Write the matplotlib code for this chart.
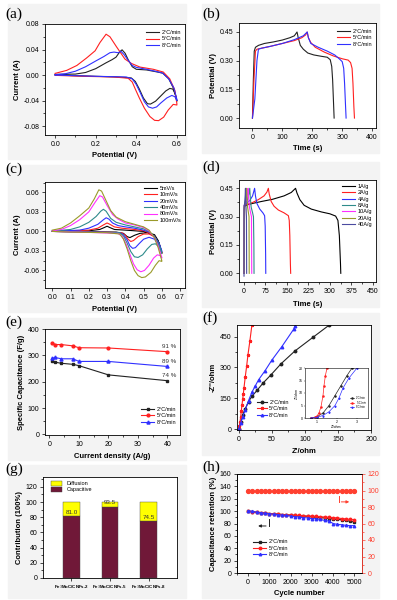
import matplotlib
matplotlib.use('Agg')
import matplotlib.pyplot as plt
from matplotlib.patches import Rectangle, Patch
from matplotlib.ticker import MultipleLocator, AutoMinorLocator

plt.rcParams['font.family'] = ['Liberation Sans', 'DejaVu Sans']
plt.rcParams['axes.linewidth'] = 0.6

# ---------------- data ----------------
# (a) CV of samples (upper branch 0->0.6 then lower branch 0.6->0)
a_labels = ['2°C/min', '5°C/min', '8°C/min']
a_black_v = [0, 0.1, 0.15, 0.2, 0.25, 0.28, 0.3, 0.32, 0.33, 0.345, 0.36, 0.38, 0.4, 0.45, 0.5, 0.53, 0.56, 0.585, 0.6,
             0.6, 0.592, 0.58, 0.565, 0.545, 0.52, 0.495, 0.47, 0.455, 0.435, 0.415, 0.395, 0.375, 0.3, 0.15, 0]
a_black_i = [0.001, 0.0015, 0.004, 0.01, 0.019, 0.024, 0.028, 0.037, 0.0395, 0.034, 0.024, 0.013, 0.009, 0.008, 0.005, 0.003, -0.006, -0.022, -0.04,
             -0.041, -0.03, -0.022, -0.021, -0.025, -0.033, -0.041, -0.0455, -0.045, -0.036, -0.022, -0.01, -0.0045, -0.003, -0.0015, 0]
a_red_v = [0, 0.057, 0.107, 0.156, 0.197, 0.221, 0.251, 0.27, 0.303, 0.344, 0.377, 0.418, 0.484, 0.533, 0.565, 0.59, 0.6,
           0.6, 0.582, 0.557, 0.535, 0.51, 0.49, 0.467, 0.44, 0.415, 0.395, 0.38, 0.36, 0.287, 0.139, 0]
a_red_i = [0.0026, 0.0073, 0.015, 0.027, 0.038, 0.051, 0.064, 0.06, 0.044, 0.025, 0.018, 0.0125, 0.009, 0.0047, -0.006, -0.024, -0.045,
           -0.047, -0.046, -0.055, -0.066, -0.0715, -0.071, -0.065, -0.052, -0.036, -0.022, -0.011, -0.005, -0.003, -0.002, -0.0005]
a_blue_v = [0, 0.05, 0.1, 0.15, 0.2, 0.24, 0.27, 0.29, 0.31, 0.325, 0.34, 0.36, 0.38, 0.4, 0.45, 0.5, 0.53, 0.56, 0.585, 0.6,
            0.6, 0.59, 0.575, 0.55, 0.52, 0.5, 0.48, 0.46, 0.44, 0.42, 0.4, 0.38, 0.35, 0.2, 0]
a_blue_i = [0.0005, 0.002, 0.006, 0.013, 0.022, 0.029, 0.035, 0.036, 0.035, 0.037, 0.032, 0.023, 0.015, 0.012, 0.009, 0.0055, 0.003, -0.006, -0.02, -0.038,
            -0.04, -0.034, -0.032, -0.036, -0.044, -0.05, -0.052, -0.05, -0.042, -0.028, -0.015, -0.006, -0.003, -0.002, 0]

# (b) GCD of samples
b_black_t = [0, 3, 6, 10, 20, 40, 70, 100, 125, 140, 149, 153, 160, 170, 185, 205, 230, 250, 260, 265, 268, 271, 273]
b_black_v = [0, 0.2, 0.35, 0.37, 0.38, 0.39, 0.398, 0.408, 0.42, 0.43, 0.45, 0.42, 0.38, 0.36, 0.34, 0.33, 0.323, 0.318, 0.305, 0.27, 0.2, 0.08, 0]
b_red_t = [0, 5, 10, 15, 30, 60, 100, 140, 165, 178, 183, 187, 195, 210, 240, 270, 300, 320, 328, 333, 336, 339, 341]
b_red_v = [0, 0.2, 0.35, 0.36, 0.365, 0.375, 0.39, 0.405, 0.42, 0.435, 0.45, 0.42, 0.395, 0.37, 0.345, 0.325, 0.31, 0.303, 0.29, 0.26, 0.18, 0.06, 0]
b_blue_t = [0, 8, 15, 20, 30, 60, 100, 140, 170, 183, 187, 195, 220, 250, 275, 290, 300, 305, 308, 311, 313]
b_blue_v = [0, 0.1, 0.3, 0.36, 0.365, 0.375, 0.39, 0.41, 0.43, 0.45, 0.42, 0.39, 0.37, 0.35, 0.33, 0.31, 0.295, 0.26, 0.18, 0.07, 0]

# (c) CV at different scan rates
c_labels = ['5mV/s', '10mV/s', '20mV/s', '40mV/s', '80mV/s', '100mV/s']
c_colors = ['#000000', '#ff2020', '#3030ff', '#2e8b8b', '#ff30ff', '#9a9a2a']
c_v = [
    [0, 0.2, 0.26, 0.285, 0.3, 0.315, 0.34, 0.4, 0.5, 0.53, 0.56, 0.585, 0.6,
     0.6, 0.58, 0.56, 0.52, 0.48, 0.45, 0.425, 0.41, 0.39, 0.35, 0],
    [0, 0.2, 0.25, 0.28, 0.3, 0.315, 0.34, 0.38, 0.45, 0.5, 0.53, 0.56, 0.585, 0.6,
     0.6, 0.58, 0.56, 0.53, 0.5, 0.47, 0.445, 0.43, 0.415, 0.4, 0.38, 0.2, 0],
    [0, 0.15, 0.2, 0.25, 0.28, 0.295, 0.31, 0.33, 0.36, 0.4, 0.45, 0.5, 0.53, 0.56, 0.585, 0.6,
     0.6, 0.58, 0.56, 0.53, 0.5, 0.475, 0.455, 0.44, 0.425, 0.41, 0.39, 0.37, 0.2, 0],
    [0, 0.1, 0.15, 0.2, 0.24, 0.265, 0.28, 0.295, 0.32, 0.35, 0.4, 0.45, 0.5, 0.53, 0.56, 0.585, 0.6,
     0.6, 0.585, 0.565, 0.545, 0.52, 0.495, 0.47, 0.45, 0.43, 0.41, 0.39, 0.37, 0.2, 0],
    [0, 0.05, 0.1, 0.15, 0.2, 0.235, 0.26, 0.275, 0.3, 0.33, 0.36, 0.4, 0.45, 0.5, 0.53, 0.56, 0.58, 0.6,
     0.6, 0.59, 0.575, 0.555, 0.53, 0.505, 0.485, 0.465, 0.445, 0.425, 0.405, 0.385, 0.36, 0.2, 0],
    [0, 0.05, 0.1, 0.15, 0.2, 0.23, 0.255, 0.27, 0.29, 0.32, 0.35, 0.4, 0.45, 0.5, 0.53, 0.56, 0.58, 0.6,
     0.6, 0.585, 0.565, 0.54, 0.51, 0.49, 0.47, 0.45, 0.43, 0.41, 0.39, 0.37, 0.3, 0.1, 0],
]
c_i = [
    [0.0001, 0.001, 0.003, 0.006, 0.008, 0.006, 0.003, 0.002, 0.0, -0.002, -0.008, -0.018, -0.032,
     -0.033, -0.014, -0.005, -0.002, -0.003, -0.006, -0.0095, -0.008, -0.003, -0.001, 0],
    [0.0002, 0.002, 0.005, 0.01, 0.013, 0.011, 0.007, 0.005, 0.003, 0.001, -0.002, -0.008, -0.02, -0.033,
     -0.034, -0.018, -0.008, -0.004, -0.004, -0.008, -0.014, -0.0155, -0.012, -0.006, -0.002, -0.0005, 0],
    [0.0003, 0.002, 0.005, 0.011, 0.018, 0.021, 0.019, 0.013, 0.009, 0.007, 0.005, 0.002, -0.001, -0.008, -0.018, -0.03,
     -0.031, -0.02, -0.012, -0.009, -0.012, -0.019, -0.025, -0.026, -0.022, -0.013, -0.005, -0.002, -0.0008, 0],
    [0.0005, 0.003, 0.007, 0.014, 0.023, 0.031, 0.034, 0.031, 0.02, 0.014, 0.01, 0.007, 0.004, 0.0, -0.008, -0.02, -0.033,
     -0.034, -0.024, -0.019, -0.02, -0.027, -0.036, -0.04, -0.039, -0.031, -0.018, -0.007, -0.002, -0.001, 0],
    [0.001, 0.003, 0.009, 0.018, 0.03, 0.045, 0.055, 0.053, 0.04, 0.026, 0.019, 0.013, 0.01, 0.006, 0.001, -0.01, -0.022, -0.04,
     -0.041, -0.037, -0.036, -0.041, -0.052, -0.06, -0.062, -0.059, -0.05, -0.035, -0.02, -0.008, -0.003, -0.0015, 0],
    [0.002, 0.005, 0.013, 0.024, 0.036, 0.05, 0.064, 0.062, 0.05, 0.032, 0.022, 0.015, 0.011, 0.007, 0.002, -0.01, -0.025, -0.045,
     -0.046, -0.045, -0.052, -0.063, -0.07, -0.071, -0.068, -0.06, -0.045, -0.027, -0.012, -0.004, -0.002, -0.001, 0],
]

# (d) GCD at different current densities
d_labels = ['1A/g', '2A/g', '4A/g', '8A/g', '10A/g', '20A/g', '40A/g']
d_colors = ['#000000', '#ff2020', '#3030ff', '#2e8b8b', '#ff30ff', '#9a9a2a', '#4a4aa0']
d_t = [
    [0, 1, 2, 10, 30, 60, 100, 140, 165, 180, 185, 195, 210, 235, 270, 300, 320, 328, 333, 337, 338],
    [0, 1, 2, 10, 30, 50, 70, 80, 85, 88, 95, 105, 120, 140, 155, 158, 160, 162, 163],
    [0, 1, 8, 20, 30, 37, 40, 45, 55, 66, 72, 74, 75.5, 76],
    [0, 0.5, 5, 12, 17, 20, 22, 25, 30, 33, 34.5, 35],
    [0, 0.5, 4, 9, 12, 14, 16, 19, 23, 26, 26.5, 27],
    [0, 0.3, 3, 6, 8, 9, 10.5, 12.5, 15.5, 17.5, 18, 18.2],
    [0, 0.2, 2, 4, 5, 6, 7, 8.5, 9, 9.2],
]
d_v = [
    [0, 0.2, 0.355, 0.362, 0.37, 0.38, 0.392, 0.41, 0.428, 0.45, 0.425, 0.39, 0.36, 0.34, 0.325, 0.315, 0.303, 0.28, 0.2, 0.05, 0],
    [0, 0.2, 0.36, 0.365, 0.375, 0.39, 0.41, 0.43, 0.45, 0.42, 0.38, 0.355, 0.335, 0.32, 0.305, 0.28, 0.2, 0.05, 0],
    [0, 0.36, 0.37, 0.385, 0.41, 0.45, 0.41, 0.37, 0.34, 0.32, 0.305, 0.25, 0.1, 0],
    [0, 0.36, 0.37, 0.39, 0.42, 0.45, 0.4, 0.35, 0.32, 0.3, 0.15, 0],
    [0, 0.36, 0.37, 0.39, 0.42, 0.45, 0.4, 0.35, 0.32, 0.3, 0.15, 0],
    [0, 0.35, 0.37, 0.39, 0.42, 0.45, 0.4, 0.35, 0.32, 0.3, 0.1, 0],
    [-0.015, 0.34, 0.37, 0.41, 0.45, 0.4, 0.35, 0.3, 0.1, 0],
]

# (e) specific capacitance
e_current = [1, 2, 4, 8, 10, 20, 40]
e_black = [278, 274, 270, 266, 261, 226, 204]
e_red = [347, 341, 341, 336, 329, 328, 314]
e_blue = [289, 292, 287, 287, 277, 277, 258]
e_retention = ['74 %', '91 %', '89 %']

# (f) Nyquist plots
f_black_x = [0, 3, 6, 10, 15, 20, 28, 37, 49, 64, 85, 113, 137]
f_black_y = [0, 35, 70, 100, 135, 160, 190, 225, 265, 318, 380, 448, 506]
f_red_x = [0, 1, 2, 3, 4, 5, 6, 7, 8, 10, 12, 14, 17, 20]
f_red_y = [0, 15, 35, 60, 90, 118, 145, 170, 200, 255, 305, 360, 430, 505]
f_blue_x = [0, 3, 6, 10, 15, 20, 25, 30, 40, 50, 65, 83, 85]
f_blue_y = [0, 30, 60, 95, 140, 180, 210, 240, 285, 335, 400, 485, 500]
fi_black_x = [0.7, 1.0, 1.3, 1.6, 1.9, 2.2, 2.5, 2.75]
fi_black_y = [0, 0.5, 2, 5, 9, 13, 17, 20]
fi_red_x = [0.7, 0.9, 1.0, 1.1, 1.2, 1.3, 1.35, 1.42, 1.5]
fi_red_y = [0, 0.3, 0.8, 2, 4.5, 9, 13, 17, 20]
fi_blue_x = [0.7, 1.0, 1.3, 1.6, 1.9, 2.1, 2.3, 2.6, 3.0]
fi_blue_y = [0, 0.3, 1, 2.5, 5, 8, 12, 16, 20]

# (g) contribution
g_samples = ['Fe$_3$MoC/CNFs-2', 'Fe$_3$MoC/CNFs-5', 'Fe$_3$MoC/CNFs-8']
g_capacitive = [81.0, 93.5, 74.5]
g_diffusion = [19.0, 6.5, 25.5]

# (h) cycling
h_cycles = [0, 200, 400, 600, 800, 1000, 1200, 1400, 1600, 1800, 2000, 2200, 2400, 2600, 2800,
            3000, 3200, 3400, 3600, 3800, 4000, 4200, 4400, 4600, 4800, 5000]
h_black = [100, 99, 98, 97.5, 97, 96, 95.5, 95, 94.5, 94, 93.5, 93, 92.5, 92, 91.5, 91, 90, 89.5, 89, 88,
           87.5, 86.5, 86, 85, 83.5, 82.5]
h_red = [100, 99, 98, 97.5, 97, 96, 95.5, 95, 94.5, 94, 93.5, 93, 93, 92.5, 92, 92, 91.5, 91, 90.5, 90,
         89.5, 89, 88, 87.5, 86.5, 86]
h_blue = [101, 99.5, 98.5, 97.5, 96.5, 96, 95, 94.5, 93.5, 93, 92, 91, 90.5, 89.5, 89, 88, 87.5, 86.5, 85, 84,
          80, 78.5, 78, 77, 76.5, 76.5]
h_efficiency = [100] * len(h_cycles)

# ---------------- layout helpers ----------------
W, H = 397, 600
fig = plt.figure(figsize=(W / 100, H / 100), dpi=100)


def rect(l, t, r, b):
    return [l / W, 1 - b / H, (r - l) / W, (b - t) / H]


for (l, t, r, b) in [(8, 4, 186, 159), (202, 4, 379, 153), (8, 165, 186, 312), (202, 162, 379, 307),
                     (8, 318, 186, 460), (202, 313, 379, 455), (8, 465, 186, 598), (202, 463, 379, 598)]:
    fig.patches.append(Rectangle((l / W, 1 - b / H), (r - l) / W, (b - t) / H,
                                 transform=fig.transFigure, color='#f3f3f3', zorder=-10))

for lab, x, y in [('(a)', 5, 8), ('(b)', 202, 8), ('(c)', 5, 163), ('(d)', 202, 161),
                  ('(e)', 5, 316), ('(f)', 202, 311), ('(g)', 5, 463), ('(h)', 202, 461)]:
    fig.text(x / W, 1 - y / H, lab, family='Liberation Serif', fontsize=11, va='top', ha='left')

TL = 5
LBL = dict(fontsize=5.5, fontweight='bold')


def style(ax, xminor=2, yminor=2):
    ax.tick_params(which='both', direction='out', labelsize=TL, width=0.5, pad=1.5, top=False, right=False)
    ax.tick_params(which='major', length=2.5)
    ax.tick_params(which='minor', length=1.5)
    if xminor:
        ax.xaxis.set_minor_locator(AutoMinorLocator(xminor))
    if yminor:
        ax.yaxis.set_minor_locator(AutoMinorLocator(yminor))
    ax.set_facecolor('white')


def leg(ax, **kw):
    lg = ax.legend(frameon=False, fontsize=4, handlelength=2.2, labelspacing=0.25, borderpad=0.2,
                   handletextpad=0.5, **kw)
    return lg


LW = 0.8
# ---------------- (a) ----------------
ax = fig.add_axes(rect(45, 24, 185, 135))
ax.plot(a_black_v, a_black_i, color='#222222', lw=LW, label=a_labels[0])
ax.plot(a_red_v, a_red_i, color='#ff2020', lw=LW, label=a_labels[1])
ax.plot(a_blue_v, a_blue_i, color='#3030ff', lw=LW, label=a_labels[2])
ax.set_xlim(-0.05, 0.64)
ax.set_ylim(-0.094, 0.08)
ax.set_yticks([-0.08, -0.04, 0.0, 0.04, 0.08])
ax.set_yticklabels(['-0.08', '-0.04', '0.00', '0.04', '0.08'])
ax.set_xticks([0.0, 0.2, 0.4, 0.6])
ax.set_xticklabels(['0.0', '0.2', '0.4', '0.6'])
style(ax)
ax.set_xlabel('Potential (V)', labelpad=3, **LBL)
ax.set_ylabel('Current (A)', labelpad=2, **LBL)
leg(ax, loc='upper right', bbox_to_anchor=(1.0, 0.98))

# ---------------- (b) ----------------
ax = fig.add_axes(rect(239, 23, 376, 128))
ax.plot(b_black_t, b_black_v, color='#222222', lw=LW, label=a_labels[0])
ax.plot(b_red_t, b_red_v, color='#ff2020', lw=LW, label=a_labels[1])
ax.plot(b_blue_t, b_blue_v, color='#3030ff', lw=LW, label=a_labels[2])
ax.set_xlim(-45, 413)
ax.set_ylim(-0.052, 0.497)
ax.set_xticks([0, 100, 200, 300, 400])
ax.set_yticks([0.0, 0.15, 0.30, 0.45])
ax.set_yticklabels(['0.00', '0.15', '0.30', '0.45'])
style(ax)
ax.set_xlabel('Time (s)', labelpad=3, **LBL)
ax.set_ylabel('Potential (V)', labelpad=2, **LBL)
leg(ax, loc='upper right', bbox_to_anchor=(1.0, 0.98))

# ---------------- (c) ----------------
ax = fig.add_axes(rect(45, 182, 185, 288))
for v, i, c, l in zip(c_v, c_i, c_colors, c_labels):
    ax.plot(v, i, color=c, lw=LW, label=l)
ax.set_xlim(-0.04, 0.727)
ax.set_ylim(-0.087, 0.076)
ax.set_xticks([0.0, 0.1, 0.2, 0.3, 0.4, 0.5, 0.6, 0.7])
ax.set_xticklabels(['0.0', '0.1', '0.2', '0.3', '0.4', '0.5', '0.6', '0.7'])
ax.set_yticks([-0.06, -0.03, 0.0, 0.03, 0.06])
ax.set_yticklabels(['-0.06', '-0.03', '0.00', '0.03', '0.06'])
style(ax, xminor=0)
ax.set_xlabel('Potential (V)', labelpad=4, **LBL)
ax.set_ylabel('Current (A)', labelpad=2, **LBL)
leg(ax, loc='upper right', bbox_to_anchor=(1.0, 1.0))

# ---------------- (d) ----------------
ax = fig.add_axes(rect(239, 180, 376, 282))
for t, v, c, l in zip(d_t, d_v, d_colors, d_labels):
    ax.plot(t, v, color=c, lw=LW, label=l)
ax.set_xlim(-17.5, 461)
ax.set_ylim(-0.046, 0.494)
ax.set_xticks([0, 75, 150, 225, 300, 375, 450])
ax.set_yticks([0.0, 0.15, 0.30, 0.45])
ax.set_yticklabels(['0.00', '0.15', '0.30', '0.45'])
style(ax)
ax.set_xlabel('Time (s)', labelpad=5, **LBL)
ax.set_ylabel('Potential (V)', labelpad=2, **LBL)
leg(ax, loc='upper right', bbox_to_anchor=(1.0, 1.0))

# ---------------- (e) ----------------
ax = fig.add_axes(rect(45, 329, 180, 435))
ax.plot(e_current, e_black, color='#222222', lw=LW, marker='s', ms=2, label=a_labels[0])
ax.plot(e_current, e_red, color='#ff2020', lw=LW, marker='o', ms=2, label=a_labels[1])
ax.plot(e_current, e_blue, color='#3030ff', lw=LW, marker='^', ms=2.2, label=a_labels[2])
for val, txt in zip([e_black[-1], e_red[-1], e_blue[-1]], e_retention):
    ax.text(e_current[-1] + 0.5, val + 11, txt, fontsize=4.5, ha='center', va='bottom', color='#333333')
ax.set_xlim(-1.5, 44.3)
ax.set_ylim(-2, 400)
ax.set_xticks([0, 10, 20, 30, 40])
ax.set_yticks([0, 100, 200, 300, 400])
style(ax)
ax.set_xlabel('Current density (A/g)', labelpad=4, **LBL)
ax.set_ylabel('Specific Capacitance (F/g)', labelpad=2, **LBL)
leg(ax, loc='lower right', bbox_to_anchor=(1.0, 0.06))

# ---------------- (f) ----------------
ax = fig.add_axes(rect(237, 325, 371, 430))
ax.plot(f_black_x, f_black_y, color='#222222', lw=LW, marker='o', ms=1.8, label=a_labels[0])
ax.plot(f_red_x, f_red_y, color='#ff2020', lw=LW, marker='*', ms=2.2, label=a_labels[1])
ax.plot(f_blue_x, f_blue_y, color='#3030ff', lw=LW, marker='^', ms=1.8, label=a_labels[2])
ax.set_xlim(-2.5, 200)
ax.set_ylim(-3, 506)
ax.set_xticks([0, 50, 100, 150, 200])
ax.set_yticks([0, 150, 300, 450])
style(ax)
ax.set_xlabel("Z'/ohm", labelpad=4, **LBL)
ax.set_ylabel("-Z''/ohm", labelpad=2, **LBL)
ax.legend(frameon=False, fontsize=4, handlelength=1.8, labelspacing=0.25, borderpad=0.2,
          handletextpad=0.4, loc='lower left', bbox_to_anchor=(0.12, 0.08))

axi = fig.add_axes(rect(305, 368, 368, 418))
axi.plot(fi_black_x, fi_black_y, color='#222222', lw=0.5, marker='o', ms=0.8, label=a_labels[0])
axi.plot(fi_red_x, fi_red_y, color='#ff2020', lw=0.5, marker='o', ms=0.8, label=a_labels[1])
axi.plot(fi_blue_x, fi_blue_y, color='#3030ff', lw=0.5, marker='^', ms=0.8, label=a_labels[2])
axi.set_xlim(0.4, 3.55)
axi.set_ylim(0, 20)
axi.set_xticks([1, 2, 3])
axi.set_yticks([0, 5, 10, 15, 20])
axi.tick_params(labelsize=2.5, length=1, width=0.3, pad=0.5)
for s in axi.spines.values():
    s.set_linewidth(0.4)
axi.set_xlabel("Z'/ohm", fontsize=2.5, labelpad=0.5)
axi.set_ylabel("Z''/ohm", fontsize=2.5, labelpad=0.3)
axi.legend(frameon=False, fontsize=2, handlelength=1.5, labelspacing=0.1, loc='lower right',
           bbox_to_anchor=(1.0, 0.15), borderpad=0.1)

# ---------------- (g) ----------------
ax = fig.add_axes(rect(43, 477, 177, 578))
xpos = [1, 2, 3]
ax.bar(xpos, g_capacitive, width=0.42, color='#701838', edgecolor='#444444', linewidth=0.3, label='Capacitive')
ax.bar(xpos, g_diffusion, bottom=g_capacitive, width=0.42, color='#ffff00', edgecolor='#444444', linewidth=0.3,
       label='Diffusion')
for x, c in zip(xpos, g_capacitive):
    ax.text(x, c + 2, f'{c:.1f}', fontsize=4.5, ha='center', va='bottom', color='#333333')
ax.set_xlim(0.26, 3.74)
ax.set_ylim(0, 133)
ax.set_xticks(xpos)
ax.set_xticklabels(g_samples, fontsize=3.2, fontweight='bold')
ax.set_yticks([0, 20, 40, 60, 80, 100, 120])
style(ax, xminor=0)
ax.tick_params(axis='x', labelsize=3.2)
ax.set_ylabel('Contribution (100%)', labelpad=2, **LBL)
handles = [Patch(facecolor='#ffff00', edgecolor='#444444', linewidth=0.3, label='Diffusion'),
           Patch(facecolor='#701838', edgecolor='#444444', linewidth=0.3, label='Capacitive')]
ax.legend(handles=handles, frameon=False, fontsize=4, loc='upper left', bbox_to_anchor=(0.03, 1.0),
          handlelength=2.0, handleheight=0.9, labelspacing=0.15, borderpad=0.2)

# ---------------- (h) ----------------
ax = fig.add_axes(rect(237, 474, 362, 573))
ax.plot(h_cycles, h_black, color='#222222', lw=LW, marker='s', ms=1.8, label=a_labels[0])
ax.plot(h_cycles, h_red, color='#ff2020', lw=LW, marker='o', ms=1.8, label=a_labels[1])
ax.plot(h_cycles, h_blue, color='#3030ff', lw=LW, marker='^', ms=1.8, label=a_labels[2])
ax.set_xlim(-517, 5360)
ax.set_ylim(0, 160)
ax.set_xticks([0, 1000, 2000, 3000, 4000, 5000])
ax.set_yticks([0, 20, 40, 60, 80, 100, 120, 140, 160])
style(ax)
ax.set_xlabel('Cycle number', labelpad=3, **LBL)
ax.set_ylabel('Capacitance retention (%)', labelpad=2, **LBL)
leg(ax, loc='lower left', bbox_to_anchor=(0.1, 0.12))
ax.plot([972, 972], [88, 76], color='#222222', lw=0.7)
ax.annotate('', xy=(345, 76), xytext=(980, 76),
            arrowprops=dict(arrowstyle='-|>', color='#222222', lw=0.7, mutation_scale=4))
ax2 = ax.twinx()
ax2.plot(h_cycles, h_efficiency, color='#ff4030', lw=0, marker='o', ms=2.8)
ax2.set_ylim(0, 120)
ax2.set_yticks([0, 20, 40, 60, 80, 100, 120])
ax2.yaxis.set_minor_locator(AutoMinorLocator(2))
ax2.tick_params(which='both', direction='out', labelsize=TL, width=0.5, pad=1.5, colors='#ff4030')
ax2.tick_params(which='major', length=2.5)
ax2.tick_params(which='minor', length=1.5)
ax2.spines['right'].set_color('#ff4030')
ax2.plot([4263, 4263], [93.5, 86.2], color='#ff4030', lw=0.7)
ax2.annotate('', xy=(4890, 86.2), xytext=(4255, 86.2),
             arrowprops=dict(arrowstyle='-|>', color='#ff4030', lw=0.7, mutation_scale=4))

fig.savefig('out.png', dpi=100)
